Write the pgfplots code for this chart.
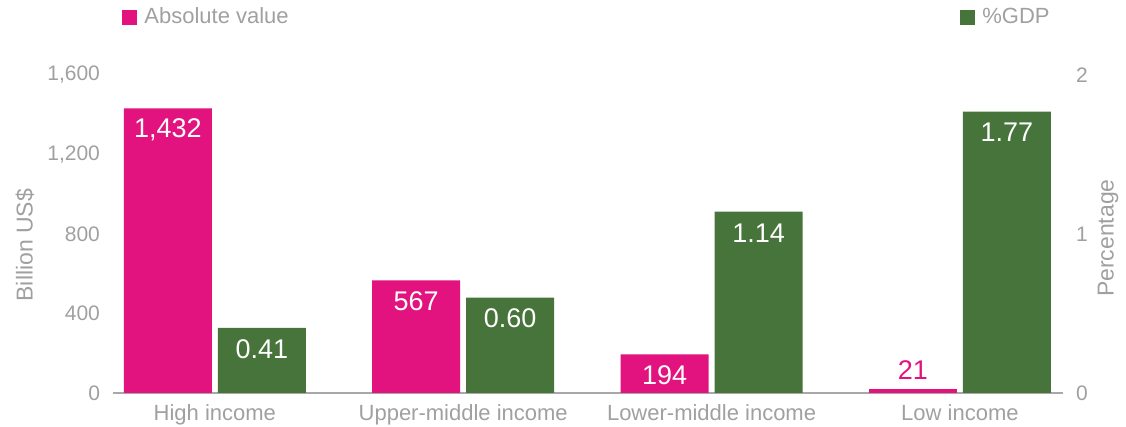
\documentclass[border=0pt]{standalone}
\usepackage{pgfplots}
\pgfplotsset{compat=1.18}
\usepackage{fontspec}
\setmainfont{Liberation Sans}
\definecolor{cpink}{HTML}{E2137E}
\definecolor{cgreen}{HTML}{47743A}
\definecolor{ctext}{HTML}{A0A0A0}
\definecolor{cline}{HTML}{A8A8A8}
\begin{document}
\begin{tikzpicture}
\pgfplotsset{
 common/.style={
  width=475pt, height=159pt, scale only axis,
  at={(0,0)}, anchor=south west,
  xmin=-0.41, xmax=3.415,
  ybar, bar width=44pt,
  /pgf/number format/assume math mode=true,
  tick style={draw=none}, major tick length=0pt,
  tick label style={font=\fontsize{10.5}{12}\selectfont, text=ctext},
  legend image code/.code={\fill[##1] (0pt,-3.75pt) rectangle (7.5pt,3.75pt);},
  legend style={draw=none, fill=none, inner sep=0pt, font=\fontsize{11}{13}\selectfont, text=ctext, anchor=west,
    /tikz/every odd column/.append style={column sep=1.5pt}},
 },
}
\path[use as bounding box] (-56.5pt,-17pt) rectangle (506.5pt,196.5pt);
\begin{axis}[common,
 ymin=0, ymax=1600, ytick={0,400,800,1200,1600},
 /pgf/number format/1000 sep={,},
 axis x line*=bottom, axis y line*=left,
 y axis line style={draw=none},
 x axis line style={draw=cline, line width=0.6pt, -},
 xtick={0,1,2,3},
 xticklabels={High income,Upper-middle income,Lower-middle income,Low income},
 every axis y label/.style={at={(axis description cs:-0.0926,0.465)}, anchor=center, rotate=90,
   font=\fontsize{11.5}{13}\selectfont, text=ctext},
 yticklabel style={xshift=-3pt},
 xticklabel style={yshift=-2pt, font=\fontsize{11}{13}\selectfont},
 ylabel={Billion US\$},
 legend style={at={(0.0095,1.1808)}},
]
\addplot[fill=cpink, draw=none, bar shift=-23.5pt,
  nodes near coords={\pgfmathprintnumber{\pgfplotspointmeta}},
  nodes near coords style={anchor=center, yshift=-10.5pt, text=white, font=\fontsize{13.5}{15}\selectfont}]
  coordinates {(0,1432) (1,567) (2,194)};
\addlegendentry{Absolute value}
\addplot[forget plot, fill=cpink, draw=none, bar shift=-23.5pt,
  nodes near coords={\pgfmathprintnumber{\pgfplotspointmeta}},
  nodes near coords style={anchor=center, yshift=9.5pt, text=cpink, font=\fontsize{13.5}{15}\selectfont}]
  coordinates {(3,21)};
\end{axis}
\begin{axis}[common,
 ymin=0, ymax=2, ytick={0,1,2},
 axis y line*=right, axis x line=none,
 y axis line style={draw=none},
 every axis y label/.style={at={(axis description cs:1.0474,0.487)}, anchor=center, rotate=90,
   font=\fontsize{11.5}{13}\selectfont, text=ctext},
 yticklabel style={xshift=3pt},
 ylabel={Percentage},
 legend style={at={(0.8916,1.1808)}},
]
\addplot[fill=cgreen, draw=none, bar shift=23.5pt,
  nodes near coords={\pgfmathprintnumber[fixed, fixed zerofill, precision=2]{\pgfplotspointmeta}},
  nodes near coords style={anchor=center, yshift=-10.5pt, text=white, font=\fontsize{13.5}{15}\selectfont}]
  coordinates {(0,0.41) (1,0.60) (2,1.14) (3,1.77)};
\addlegendentry{\%GDP}
\end{axis}
\end{tikzpicture}
\end{document}
